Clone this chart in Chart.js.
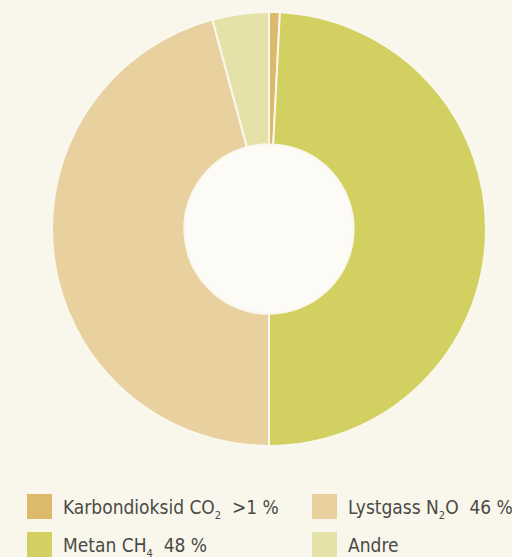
<!DOCTYPE html>
<html>
<head>
<meta charset="utf-8">
<script src="https://cdn.jsdelivr.net/npm/chart.js@4.4.0/dist/chart.umd.min.js"></script>
<style>
  html, body { margin: 0; padding: 0; }
  body { width: 512px; height: 557px; background: #f9f7eb; position: relative; overflow: hidden; }
  #wrap { position: absolute; left: 51px; top: 11px; width: 436px; height: 436px; }
  #legend { position: absolute; left: 27px; top: 494px; display: grid; grid-auto-flow: column;
    grid-template-rows: 38px 38px; grid-template-columns: 285px 200px;
    font-family: "DejaVu Sans Condensed", "Liberation Sans Narrow", sans-serif; font-size: 19px; color: #4a4a48; }
  .item { display: flex; align-items: flex-start; height: 38px; }
  .box { width: 25px; height: 25px; margin-right: 11px; flex: none; }
  .txt { line-height: 26px; white-space: pre; }
  sub { font-size: 11px; vertical-align: -5px; line-height: 0; }
</style>
</head>
<body>
<div id="wrap"><canvas id="chart"></canvas></div>
<div id="legend"></div>
<script>
// share of emissions (percent of the ring)
const gases = ['Karbondioksid CO2', 'Metan CH4', 'Lystgass N2O', 'Andre'];
const shares = [0.8, 49.2, 45.8, 4.2];
const shareLabels = ['>1 %', '48 %', '46 %', ''];
const colors = ['#dcb96b', '#d3d062', '#e8d09f', '#e4e2a9'];

const holePlugin = {
  id: 'hole',
  afterDatasetsDraw(chart) {
    const arc = chart.getDatasetMeta(0).data[0];
    if (!arc) return;
    const ctx = chart.ctx;
    ctx.save();
    ctx.beginPath();
    ctx.arc(arc.x, arc.y, arc.innerRadius - 1, 0, Math.PI * 2);
    ctx.fillStyle = '#fcfbf6';
    ctx.fill();
    ctx.restore();
  }
};

new Chart(document.getElementById('chart'), {
  type: 'doughnut',
  data: {
    labels: gases,
    datasets: [{
      data: shares,
      backgroundColor: colors,
      borderColor: '#faf8ee',
      borderWidth: 2,
      hoverOffset: 0
    }]
  },
  options: {
    responsive: true,
    maintainAspectRatio: false,
    animation: false,
    cutout: '39%',
    layout: { padding: 0 },
    plugins: {
      legend: { display: false },
      tooltip: { enabled: false }
    }
  },
  plugins: [holePlugin]
});

// legend with subscripts
const legend = document.getElementById('legend');
gases.forEach((g, i) => {
  const item = document.createElement('div');
  item.className = 'item';
  const box = document.createElement('div');
  box.className = 'box';
  box.style.background = colors[i];
  const txt = document.createElement('div');
  txt.className = 'txt';
  txt.innerHTML = g.replace(/(CO|CH|N)(\d)/, '$1<sub>$2</sub>') + (shareLabels[i] ? '  ' + shareLabels[i] : '');
  item.appendChild(box);
  item.appendChild(txt);
  legend.appendChild(item);
});
</script>
</body>
</html>
